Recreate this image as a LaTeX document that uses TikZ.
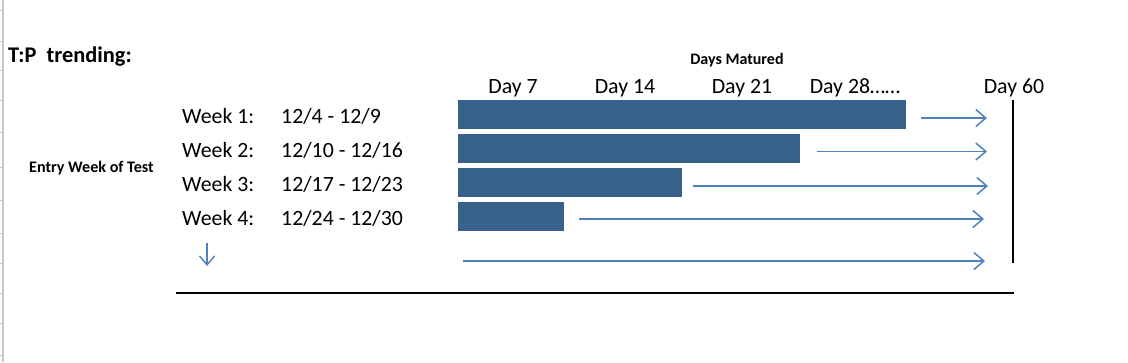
\documentclass[tikz,border=0pt]{standalone}
\usepackage{fontspec}
\setmainfont{Carlito}
\usetikzlibrary{arrows.meta}
\definecolor{barblue}{HTML}{38618C}
\definecolor{arrblue}{HTML}{4F81BD}
\definecolor{gridgray}{HTML}{C8C8C8}
\begin{document}
\begin{tikzpicture}[x=1pt,y=-1pt,
  lbl/.style={inner sep=0, anchor=base west, font=\fontsize{21.8}{25}\selectfont},
  daylbl/.style={inner sep=0, anchor=base, font=\fontsize{21.8}{25}\selectfont},
  barbox/.style={fill=barblue, draw=none, inner sep=0, minimum height=29pt, anchor=north west},
  arr/.style={draw=arrblue, line width=1.6pt, -{Straight Barb[length=10pt,width=17pt,line width=1.5pt]}},
  blackline/.style={draw=black, line width=2pt}]
\useasboundingbox (0,0) rectangle (1128,362);
\fill[white] (0,0) rectangle (1128,362);
% spreadsheet edge
\draw[gridgray, line width=2pt] (3,0) -- (3,362);
\foreach \yy in {10,41,70,100,132,167,200,233,263,293,323,355}
  \draw[gridgray, line width=0.8pt] (0,\yy) -- (3,\yy);
% titles
\node[inner sep=0, anchor=base west, font=\bfseries\fontsize{22.4}{26}\selectfont] (title) at (8,62) {T:P\ \ trending:};
\node[inner sep=0, anchor=base, font=\bfseries\fontsize{16}{18}\selectfont] (dm) at (737,64) {Days Matured};
\node[inner sep=0, anchor=base west, font=\bfseries\fontsize{16.1}{18}\selectfont] (entry) at (29,172) {Entry Week of Test};
% day labels
\node[daylbl] (d7) at (513,93) {Day 7};
\node[daylbl] (d14) at (625,93) {Day 14};
\node[daylbl] (d21) at (742,93) {Day 21};
\node[daylbl] (d28) at (855,93) {Day 28\ldots\ldots};
\node[daylbl] (d60) at (1014,93) {Day 60};
% week labels
\node[lbl] (w1) at (182,123) {Week 1:};
\node[lbl] (w2) at (182,157) {Week 2:};
\node[lbl] (w3) at (182,191) {Week 3:};
\node[lbl] (w4) at (182,225) {Week 4:};
\node[lbl] (r1) at (281,123) {12/4 - 12/9};
\node[lbl] (r2) at (281,157) {12/10 - 12/16};
\node[lbl] (r3) at (281,191) {12/17 - 12/23};
\node[lbl] (r4) at (281,225) {12/24 - 12/30};
% bars
\node[barbox, minimum width=448pt] (b1) at (458,100) {};
\node[barbox, minimum width=342pt] (b2) at (458,134) {};
\node[barbox, minimum width=224pt] (b3) at (458,168) {};
\node[barbox, minimum width=106pt] (b4) at (458,202) {};
% arrows
\coordinate (s1) at (921,118); \coordinate (e1) at (987,118);
\coordinate (s2) at (817,151.5); \coordinate (e2) at (987,151.5);
\coordinate (s3) at (693,186); \coordinate (e3) at (988,186);
\coordinate (s4) at (579,219); \coordinate (e4) at (984,219);
\coordinate (s5) at (463,261); \coordinate (e5) at (985,261);
\draw[arr] (s1) -- (e1);
\draw[arr] (s2) -- (e2);
\draw[arr] (s3) -- (e3);
\draw[arr] (s4) -- (e4);
\draw[arr] (s5) -- (e5);
% down arrow
\coordinate (ds) at (207,243); \coordinate (de) at (207,266);
\draw[draw=arrblue, line width=1.4pt, -{Straight Barb[length=9pt,width=15pt,line width=1.4pt]}] (ds) -- (de);
% black lines
\coordinate (v1) at (1013,100); \coordinate (v2) at (1013,263);
\draw[blackline] (v1) -- (v2);
\coordinate (h1) at (176,293); \coordinate (h2) at (1014,293);
\draw[blackline] (h1) -- (h2);
\end{tikzpicture}
\end{document}
